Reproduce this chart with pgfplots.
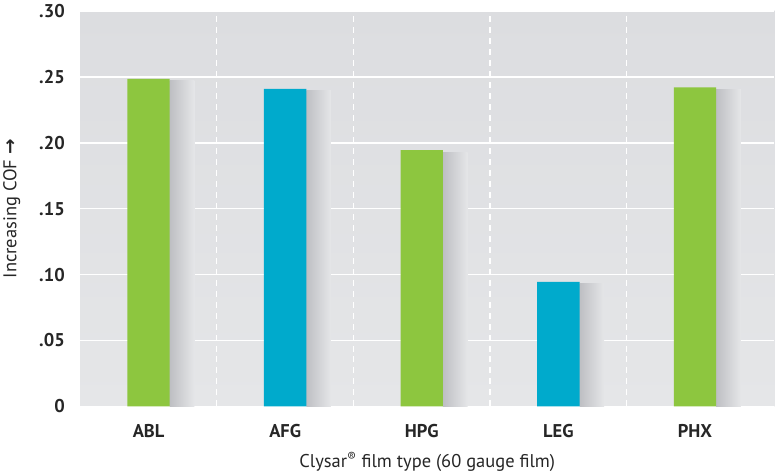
\documentclass[border=0pt]{standalone}
\usepackage{pgfplots}
\pgfplotsset{compat=1.18}
\usepackage{fontspec}
\setmainfont{PT Sans}
\newfontfamily\dejavu{DejaVu Sans}
\definecolor{cgreen}{HTML}{8DC63F}
\definecolor{cblue}{HTML}{00AACC}
\definecolor{bgtop}{HTML}{DCDDE0}
\definecolor{bgbot}{HTML}{E5E6E8}
\definecolor{shade}{HTML}{BEBFC3}
\pgfplotsset{shadow/.style={ybar, bar width=0.18, bar shift=0.245, draw=none,
    left color=shade, right color=bgbot, forget plot}}
\begin{document}
\begin{tikzpicture}
\begin{axis}[
    at={(0,0)}, anchor=south west,
    scale only axis,
    width=695pt, height=396pt,
    xmin=-0.5, xmax=4.58,
    ymin=0, ymax=0.30,
    axis line style={draw=none},
    axis background/.style={top color=bgtop, bottom color=bgbot},
    xtick={0,1,2,3,4},
    xticklabels={ABL,AFG,HPG,LEG,PHX},
    minor xtick={0.5,1.5,2.5,3.5},
    ytick={0,0.05,0.10,0.15,0.20,0.25,0.30},
    yticklabels={0,.05,.10,.15,.20,.25,.30},
    major tick length=0pt, minor tick length=0pt,
    ymajorgrids, xminorgrids,
    major grid style={white, line width=1.5pt},
    minor grid style={white, line width=1.2pt, dash pattern=on 6pt off 5pt},
    tick label style={font=\fontsize{18.5}{21}\selectfont\bfseries, text=black!85},
    yticklabel style={xshift=-12pt},
    xticklabel style={yshift=-14pt},
    label style={font=\fontsize{18.5}{22}\selectfont, text=black!85},
    xlabel={Clysar\textsuperscript{®} film type (60 gauge film)},
    ylabel={Increasing COF {\dejavu\bfseries →}},
    xlabel style={yshift=-8pt},
    ylabel style={yshift=12pt},
]
% soft shadows on the right of each bar
\addplot[shadow] coordinates {(0,0.2470)};
\addplot[shadow] coordinates {(1,0.2395)};
\addplot[shadow] coordinates {(2,0.1930)};
\addplot[shadow] coordinates {(3,0.0930)};
\addplot[shadow] coordinates {(4,0.2405)};
\addplot[ybar, bar width=0.31, bar shift=0pt, draw=none, fill=cgreen]
  coordinates {(0,0.2485) (2,0.1945) (4,0.2420)};
\addplot[ybar, bar width=0.31, bar shift=0pt, draw=none, fill=cblue]
  coordinates {(1,0.2410) (3,0.0945)};
\end{axis}
\path[use as bounding box] (-80pt,-68pt) rectangle (695pt,407pt);
\end{tikzpicture}
\end{document}
